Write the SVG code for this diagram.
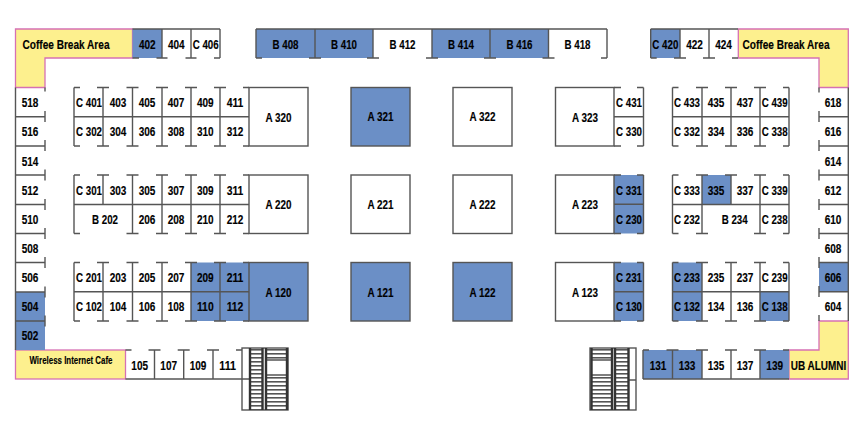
<svg xmlns="http://www.w3.org/2000/svg" width="864" height="432" viewBox="0 0 864 432">
<style>
text{font-family:"Liberation Sans",Arial,sans-serif;font-weight:bold;font-size:12.5px;text-anchor:middle;fill:#000;stroke:#000;stroke-width:.15}
.s{font-size:11px}
.b{fill:#6b8fc6}
.y{fill:#fdf08e;stroke:#d670b4;stroke-width:1.3}
.w{fill:none;stroke:#555;stroke-width:1.4}
.k{fill:none;stroke:#333;stroke-width:2.4}
.tr{fill:url(#treads)}
</style>
<defs>
<pattern id="treads" width="10" height="4" patternUnits="userSpaceOnUse"><rect width="10" height="4" fill="#fff"/><rect y="1" width="10" height="1.600" fill="#555"/></pattern>
<path id="blockL" d="M74 87.5V146M103 87.5V146M132.5 87.5V146M162 87.5V146M191 87.5V146M220 87.5V146M74 116.7H249M74 87.5h6M97 87.5h12M126.500 87.5h12M156 87.5h12M185 87.500h12M214 87.5h12M243 87.5h6M74 146h6M97 146h12M126.500 146h12M156 146h12M185 146h12M214 146h12M243 146h6"/>
<path id="blockC" d="M643.500 87.500V146M614 116.700H643.500M614 87.500h7M637 87.500h6.500M614 146h7M637 146h6.500"/>
<path id="blockR" d="M672.500 87.500V146M702 87.500V146M731 87.500V146M760 87.500V146M789 87.500V146M672.500 116.700H789M672.500 87.500h6M696 87.500h12M725 87.500h12M754 87.500h12M783 87.500h6M672.500 146h6M696 146h12M725 146h12M754 146h12M783 146h6"/>
</defs>

<g id="coffee-left"><polygon class="y" points="15.500,29 132.500,29 132.500,58 45,58 45,87.500 15.500,87.500"/><text x="66" y="48.500" textLength="87" lengthAdjust="spacingAndGlyphs">Coffee Break Area</text></g>
<g id="coffee-right"><polygon class="y" points="738.300,29 848.300,29 848.300,87.500 819,87.500 819,58 738.300,58"/><text x="786" y="48.500" textLength="87" lengthAdjust="spacingAndGlyphs">Coffee Break Area</text></g>
<g id="wireless-cafe"><rect class="y" x="15.500" y="350" width="110" height="29"/><text class="s" transform="translate(71 364) scale(.72 1)">Wireless Internet Cafe</text></g>
<g id="ub-alumni"><polygon class="y" points="819,321 848.300,321 848.300,379 789,379 789,350 819,350"/><text x="818.500" y="369.500" textLength="55.500" lengthAdjust="spacingAndGlyphs">UB ALUMNI</text></g>

<g id="booths-top">
<g id="b402"><rect class="b" x="132.500" y="29" width="29.500" height="29"/><text x="147.300" y="48.500" textLength="16.700" lengthAdjust="spacingAndGlyphs">402</text></g>
<g id="b404"><text x="176.300" y="48.500" textLength="16.700" lengthAdjust="spacingAndGlyphs">404</text></g>
<g id="c406"><text x="205.700" y="48.500" textLength="26" lengthAdjust="spacingAndGlyphs">C 406</text></g>
<g id="b408"><rect class="b" x="256" y="29" width="59" height="29"/><text x="285.500" y="48.500" textLength="26" lengthAdjust="spacingAndGlyphs">B 408</text></g>
<g id="b410"><rect class="b" x="315" y="29" width="58" height="29"/><text x="344" y="48.500" textLength="26" lengthAdjust="spacingAndGlyphs">B 410</text></g>
<g id="b412"><text x="402.500" y="48.500" textLength="26" lengthAdjust="spacingAndGlyphs">B 412</text></g>
<g id="b414"><rect class="b" x="432" y="29" width="58" height="29"/><text x="461" y="48.500" textLength="26" lengthAdjust="spacingAndGlyphs">B 414</text></g>
<g id="b416"><rect class="b" x="490" y="29" width="58.500" height="29"/><text x="519.500" y="48.500" textLength="26" lengthAdjust="spacingAndGlyphs">B 416</text></g>
<g id="b418"><text x="577.500" y="48.500" textLength="26" lengthAdjust="spacingAndGlyphs">B 418</text></g>
<g id="c420"><rect class="b" x="650.700" y="29" width="29.300" height="29"/><text x="665.300" y="48.500" textLength="26" lengthAdjust="spacingAndGlyphs">C 420</text></g>
<g id="b422"><text x="694.500" y="48.500" textLength="16.700" lengthAdjust="spacingAndGlyphs">422</text></g>
<g id="b424"><text x="723.500" y="48.500" textLength="16.700" lengthAdjust="spacingAndGlyphs">424</text></g>
</g>

<g id="booths-left">
<g id="b518"><text x="30" y="107" textLength="16.700" lengthAdjust="spacingAndGlyphs">518</text></g>
<g id="b516"><text x="30" y="136" textLength="16.700" lengthAdjust="spacingAndGlyphs">516</text></g>
<g id="b514"><text x="30" y="165.500" textLength="16.700" lengthAdjust="spacingAndGlyphs">514</text></g>
<g id="b512"><text x="30" y="194.500" textLength="16.700" lengthAdjust="spacingAndGlyphs">512</text></g>
<g id="b510"><text x="30" y="224" textLength="16.700" lengthAdjust="spacingAndGlyphs">510</text></g>
<g id="b508"><text x="30" y="252.500" textLength="16.700" lengthAdjust="spacingAndGlyphs">508</text></g>
<g id="b506"><text x="30" y="282" textLength="16.700" lengthAdjust="spacingAndGlyphs">506</text></g>
<g id="b504"><rect class="b" x="15.500" y="292" width="29.500" height="29"/><text x="30" y="311" textLength="16.700" lengthAdjust="spacingAndGlyphs">504</text></g>
<g id="b502"><rect class="b" x="15.500" y="321" width="29.500" height="29"/><text x="30" y="340" textLength="16.700" lengthAdjust="spacingAndGlyphs">502</text></g>
</g>

<g id="booths-right">
<g id="b618"><text x="833" y="107" textLength="16.700" lengthAdjust="spacingAndGlyphs">618</text></g>
<g id="b616"><text x="833" y="136" textLength="16.700" lengthAdjust="spacingAndGlyphs">616</text></g>
<g id="b614"><text x="833" y="166" textLength="16.700" lengthAdjust="spacingAndGlyphs">614</text></g>
<g id="b612"><text x="833" y="194.500" textLength="16.700" lengthAdjust="spacingAndGlyphs">612</text></g>
<g id="b610"><text x="833" y="224" textLength="16.700" lengthAdjust="spacingAndGlyphs">610</text></g>
<g id="b608"><text x="833" y="252.500" textLength="16.700" lengthAdjust="spacingAndGlyphs">608</text></g>
<g id="b606"><rect class="b" x="819" y="262.500" width="29.300" height="29.200"/><text x="833" y="282" textLength="16.700" lengthAdjust="spacingAndGlyphs">606</text></g>
<g id="b604"><text x="833" y="311" textLength="16.700" lengthAdjust="spacingAndGlyphs">604</text></g>
</g>

<g id="block-left-upper">
<g id="c401"><text x="89" y="107" textLength="26" lengthAdjust="spacingAndGlyphs">C 401</text></g>
<g id="b403"><text x="118" y="107" textLength="16.700" lengthAdjust="spacingAndGlyphs">403</text></g>
<g id="b405"><text x="147" y="107" textLength="16.700" lengthAdjust="spacingAndGlyphs">405</text></g>
<g id="b407"><text x="176" y="107" textLength="16.700" lengthAdjust="spacingAndGlyphs">407</text></g>
<g id="b409"><text x="205.300" y="107" textLength="16.700" lengthAdjust="spacingAndGlyphs">409</text></g>
<g id="b411"><text x="235" y="107" textLength="16.700" lengthAdjust="spacingAndGlyphs">411</text></g>
<g id="c302"><text x="89" y="136" textLength="26" lengthAdjust="spacingAndGlyphs">C 302</text></g>
<g id="b304"><text x="118" y="136" textLength="16.700" lengthAdjust="spacingAndGlyphs">304</text></g>
<g id="b306"><text x="147" y="136" textLength="16.700" lengthAdjust="spacingAndGlyphs">306</text></g>
<g id="b308"><text x="176" y="136" textLength="16.700" lengthAdjust="spacingAndGlyphs">308</text></g>
<g id="b310"><text x="205.300" y="136" textLength="16.700" lengthAdjust="spacingAndGlyphs">310</text></g>
<g id="b312"><text x="235" y="136" textLength="16.700" lengthAdjust="spacingAndGlyphs">312</text></g>
<g id="a320"><text x="278.500" y="121.500" textLength="26" lengthAdjust="spacingAndGlyphs">A 320</text></g>
</g>

<g id="block-left-middle">
<g id="c301"><text x="89" y="194.500" textLength="26" lengthAdjust="spacingAndGlyphs">C 301</text></g>
<g id="b303"><text x="118" y="194.500" textLength="16.700" lengthAdjust="spacingAndGlyphs">303</text></g>
<g id="b305"><text x="147" y="194.500" textLength="16.700" lengthAdjust="spacingAndGlyphs">305</text></g>
<g id="b307"><text x="176" y="194.500" textLength="16.700" lengthAdjust="spacingAndGlyphs">307</text></g>
<g id="b309"><text x="205.300" y="194.500" textLength="16.700" lengthAdjust="spacingAndGlyphs">309</text></g>
<g id="b311"><text x="235" y="194.500" textLength="16.700" lengthAdjust="spacingAndGlyphs">311</text></g>
<g id="b202"><text x="105" y="224" textLength="26" lengthAdjust="spacingAndGlyphs">B 202</text></g>
<g id="b206"><text x="147" y="224" textLength="16.700" lengthAdjust="spacingAndGlyphs">206</text></g>
<g id="b208"><text x="176" y="224" textLength="16.700" lengthAdjust="spacingAndGlyphs">208</text></g>
<g id="b210"><text x="205.300" y="224" textLength="16.700" lengthAdjust="spacingAndGlyphs">210</text></g>
<g id="b212"><text x="235" y="224" textLength="16.700" lengthAdjust="spacingAndGlyphs">212</text></g>
<g id="a220"><text x="278.500" y="209" textLength="26" lengthAdjust="spacingAndGlyphs">A 220</text></g>
</g>

<g id="block-left-lower">
<g id="c201"><text x="89" y="282" textLength="26" lengthAdjust="spacingAndGlyphs">C 201</text></g>
<g id="b203"><text x="118" y="282" textLength="16.700" lengthAdjust="spacingAndGlyphs">203</text></g>
<g id="b205"><text x="147" y="282" textLength="16.700" lengthAdjust="spacingAndGlyphs">205</text></g>
<g id="b207"><text x="176" y="282" textLength="16.700" lengthAdjust="spacingAndGlyphs">207</text></g>
<g id="b209"><rect class="b" x="191" y="262.500" width="29" height="29.200"/><text x="205.300" y="282" textLength="16.700" lengthAdjust="spacingAndGlyphs">209</text></g>
<g id="b211"><rect class="b" x="220" y="262.500" width="29" height="29.200"/><text x="235" y="282" textLength="16.700" lengthAdjust="spacingAndGlyphs">211</text></g>
<g id="c102"><text x="89" y="311" textLength="26" lengthAdjust="spacingAndGlyphs">C 102</text></g>
<g id="b104"><text x="118" y="311" textLength="16.700" lengthAdjust="spacingAndGlyphs">104</text></g>
<g id="b106"><text x="147" y="311" textLength="16.700" lengthAdjust="spacingAndGlyphs">106</text></g>
<g id="b108"><text x="176" y="311" textLength="16.700" lengthAdjust="spacingAndGlyphs">108</text></g>
<g id="b110"><rect class="b" x="191" y="291.700" width="29" height="29.300"/><text x="205.300" y="311" textLength="16.700" lengthAdjust="spacingAndGlyphs">110</text></g>
<g id="b112"><rect class="b" x="220" y="291.700" width="29" height="29.300"/><text x="235" y="311" textLength="16.700" lengthAdjust="spacingAndGlyphs">112</text></g>
<g id="a120"><rect class="b" x="249" y="262.500" width="59" height="58.500"/><text x="278.500" y="296.500" textLength="26" lengthAdjust="spacingAndGlyphs">A 120</text></g>
</g>

<g id="block-a">
<g id="a321"><rect class="b" x="351" y="87.500" width="59" height="58.500"/><text x="380.500" y="121" textLength="26" lengthAdjust="spacingAndGlyphs">A 321</text></g>
<g id="a322"><text x="482.500" y="121" textLength="26" lengthAdjust="spacingAndGlyphs">A 322</text></g>
<g id="a323"><text x="585" y="121.500" textLength="26" lengthAdjust="spacingAndGlyphs">A 323</text></g>
<g id="a221"><text x="380.500" y="209" textLength="26" lengthAdjust="spacingAndGlyphs">A 221</text></g>
<g id="a222"><text x="482.500" y="209" textLength="26" lengthAdjust="spacingAndGlyphs">A 222</text></g>
<g id="a223"><text x="585" y="209" textLength="26" lengthAdjust="spacingAndGlyphs">A 223</text></g>
<g id="a121"><rect class="b" x="351" y="262.500" width="59" height="58.500"/><text x="380.500" y="296.500" textLength="26" lengthAdjust="spacingAndGlyphs">A 121</text></g>
<g id="a122"><rect class="b" x="453" y="262.500" width="59" height="58.500"/><text x="482.500" y="296.500" textLength="26" lengthAdjust="spacingAndGlyphs">A 122</text></g>
<g id="a123"><text x="585" y="296.500" textLength="26" lengthAdjust="spacingAndGlyphs">A 123</text></g>
</g>

<g id="block-c">
<g id="c431"><text x="629" y="107" textLength="26" lengthAdjust="spacingAndGlyphs">C 431</text></g>
<g id="c330"><text x="629" y="136" textLength="26" lengthAdjust="spacingAndGlyphs">C 330</text></g>
<g id="c331"><rect class="b" x="614" y="175" width="29.500" height="29.500"/><text x="629" y="194.500" textLength="26" lengthAdjust="spacingAndGlyphs">C 331</text></g>
<g id="c230"><rect class="b" x="614" y="204.500" width="29.500" height="29"/><text x="629" y="224" textLength="26" lengthAdjust="spacingAndGlyphs">C 230</text></g>
<g id="c231"><rect class="b" x="614" y="262.500" width="29.500" height="29.200"/><text x="629" y="282" textLength="26" lengthAdjust="spacingAndGlyphs">C 231</text></g>
<g id="c130"><rect class="b" x="614" y="291.700" width="29.500" height="29.300"/><text x="629" y="311" textLength="26" lengthAdjust="spacingAndGlyphs">C 130</text></g>
</g>

<g id="block-right">
<g id="c433"><text x="687" y="107" textLength="26" lengthAdjust="spacingAndGlyphs">C 433</text></g>
<g id="b435"><text x="716" y="107" textLength="16.700" lengthAdjust="spacingAndGlyphs">435</text></g>
<g id="b437"><text x="745" y="107" textLength="16.700" lengthAdjust="spacingAndGlyphs">437</text></g>
<g id="c439"><text x="774.700" y="107" textLength="26" lengthAdjust="spacingAndGlyphs">C 439</text></g>
<g id="c332"><text x="687" y="136" textLength="26" lengthAdjust="spacingAndGlyphs">C 332</text></g>
<g id="b334"><text x="716" y="136" textLength="16.700" lengthAdjust="spacingAndGlyphs">334</text></g>
<g id="b336"><text x="745" y="136" textLength="16.700" lengthAdjust="spacingAndGlyphs">336</text></g>
<g id="c338"><text x="774.700" y="136" textLength="26" lengthAdjust="spacingAndGlyphs">C 338</text></g>
<g id="c333"><text x="687" y="194.500" textLength="26" lengthAdjust="spacingAndGlyphs">C 333</text></g>
<g id="b335"><rect class="b" x="702" y="175" width="29" height="29.500"/><text x="716" y="194.500" textLength="16.700" lengthAdjust="spacingAndGlyphs">335</text></g>
<g id="b337"><text x="745" y="194.500" textLength="16.700" lengthAdjust="spacingAndGlyphs">337</text></g>
<g id="c339"><text x="774.700" y="194.500" textLength="26" lengthAdjust="spacingAndGlyphs">C 339</text></g>
<g id="c232"><text x="687" y="224" textLength="26" lengthAdjust="spacingAndGlyphs">C 232</text></g>
<g id="b234"><text x="734.700" y="224" textLength="26" lengthAdjust="spacingAndGlyphs">B 234</text></g>
<g id="c238"><text x="774.700" y="224" textLength="26" lengthAdjust="spacingAndGlyphs">C 238</text></g>
<g id="c233"><rect class="b" x="672.500" y="262.500" width="29.500" height="29.200"/><text x="687" y="282" textLength="26" lengthAdjust="spacingAndGlyphs">C 233</text></g>
<g id="b235"><text x="716" y="282" textLength="16.700" lengthAdjust="spacingAndGlyphs">235</text></g>
<g id="b237"><text x="745" y="282" textLength="16.700" lengthAdjust="spacingAndGlyphs">237</text></g>
<g id="c239"><text x="774.700" y="282" textLength="26" lengthAdjust="spacingAndGlyphs">C 239</text></g>
<g id="c132"><rect class="b" x="672.500" y="291.700" width="29.500" height="29.300"/><text x="687" y="311" textLength="26" lengthAdjust="spacingAndGlyphs">C 132</text></g>
<g id="b134"><text x="716" y="311" textLength="16.700" lengthAdjust="spacingAndGlyphs">134</text></g>
<g id="b136"><text x="745" y="311" textLength="16.700" lengthAdjust="spacingAndGlyphs">136</text></g>
<g id="c138"><rect class="b" x="760" y="291.700" width="29" height="29.300"/><text x="774.700" y="311" textLength="26" lengthAdjust="spacingAndGlyphs">C 138</text></g>
</g>

<g id="booths-bottom">
<g id="b105"><text x="139.700" y="369.500" textLength="16.700" lengthAdjust="spacingAndGlyphs">105</text></g>
<g id="b107"><text x="168.700" y="369.500" textLength="16.700" lengthAdjust="spacingAndGlyphs">107</text></g>
<g id="b109"><text x="198" y="369.500" textLength="16.700" lengthAdjust="spacingAndGlyphs">109</text></g>
<g id="b111"><text x="227.700" y="369.500" textLength="16.700" lengthAdjust="spacingAndGlyphs">111</text></g>
<g id="b131"><rect class="b" x="643" y="350" width="29.500" height="29"/><text x="658" y="369.500" textLength="16.700" lengthAdjust="spacingAndGlyphs">131</text></g>
<g id="b133"><rect class="b" x="672.500" y="350" width="29.500" height="29"/><text x="687" y="369.500" textLength="16.700" lengthAdjust="spacingAndGlyphs">133</text></g>
<g id="b135"><text x="716" y="369.500" textLength="16.700" lengthAdjust="spacingAndGlyphs">135</text></g>
<g id="b137"><text x="745" y="369.500" textLength="16.700" lengthAdjust="spacingAndGlyphs">137</text></g>
<g id="b139"><rect class="b" x="760" y="350" width="29" height="29"/><text x="774.700" y="369.500" textLength="16.700" lengthAdjust="spacingAndGlyphs">139</text></g>
</g>

<g id="stairs">
<rect class="tr" x="250" y="348" width="12.500" height="62"/>
<rect class="tr" x="266" y="348" width="21" height="12"/>
<rect class="tr" x="266" y="375" width="21" height="35"/>
<rect class="w" x="242" y="348" width="46" height="62"/>
<path class="w" d="M242 379H250M266 360H287M266 375H287"/>
<path class="k" d="M250 348V410M262.500 348V410M266 348V410M287 348V410"/>
<rect class="tr" x="592" y="348" width="20" height="12"/>
<rect class="tr" x="592" y="375" width="20" height="35"/>
<rect class="tr" x="615" y="348" width="13" height="62"/>
<rect class="w" x="590" y="348" width="46" height="62"/>
<path class="w" d="M628 380H636M592 360H612M592 375H612"/>
<path class="k" d="M591.500 348V410M612 348V410M615 348V410M628.500 348V410"/>
</g>

<g id="walls" class="w">
<path d="M132.500 29H220M162 29V58M191 29V58M220 29V58M132.500 58h6.500M156.500 58h11M185.500 58h11M214 58h6"/>
<path d="M256 29H607M256 29V58M315 29V58M373 29V58M432 29V58M490 29V58M548.500 29V58M607 29V58M256 58h6M309 58h12M367 58h12M426 58h12M484 58h12M542.500 58h12M601 58h6"/>
<path d="M650.700 29H738M650.700 29V58M680 29V58M709 29V58M650.700 58h6M674 58h12M703 58h12M732 58h6"/>
<path d="M15.500 87.500V350M15.500 116.700H45M15.500 146H45M15.500 175H45M15.500 204.500H45M15.500 233.500H45M15.500 262.500H45M15.500 292H45M15.500 321H45M45 87.500v4M45 111v11M45 140v11M45 169.500v11M45 199v11M45 228v11M45 257v11M45 286.500v11M45 315.500v11"/>
<path d="M848.300 87.500V321M819 116.700H848.300M819 146H848.300M819 175H848.300M819 204.500H848.300M819 233.500H848.300M819 262.500H848.300M819 291.700H848.300M819 87.500v5M819 111v11M819 140v11M819 169.500v11M819 199v11M819 228v11M819 257v11M819 286v11M819 315v6"/>
<use href="#blockL"/>
<use href="#blockL" y="175"/>
<path d="M74 175V233.500M103 175V204.500M132.500 175V233.500M162 175V233.500M191 175V233.500M220 175V233.500M74 204.500H249M74 175h6M97 175h12M126.500 175h12M156 175h12M185 175h12M214 175h12M243 175h6M74 233.500h6M126.500 233.500h12M156 233.500h12M185 233.500h12M214 233.500h12M243 233.500h6"/>
<rect x="249" y="87.500" width="59" height="58.500"/>
<rect x="249" y="175" width="59" height="58.500"/>
<rect x="249" y="262.500" width="59" height="58.500"/>
<rect x="351" y="87.500" width="59" height="58.500"/>
<rect x="351" y="175" width="59" height="58.500"/>
<rect x="351" y="262.500" width="59" height="58.500"/>
<rect x="453" y="87.500" width="59" height="58.500"/>
<rect x="453" y="175" width="59" height="58.500"/>
<rect x="453" y="262.500" width="59" height="58.500"/>
<rect x="555.500" y="87.500" width="58.500" height="58.500"/>
<rect x="555.500" y="175" width="58.500" height="58.500"/>
<rect x="555.500" y="262.500" width="58.500" height="58.500"/>
<use href="#blockC"/>
<use href="#blockC" y="87.500"/>
<use href="#blockC" y="175"/>
<use href="#blockR"/>
<use href="#blockR" y="175"/>
<path d="M672.500 175V233.500M702 175V233.500M731 175V204.500M760 175V233.500M789 175V233.500M672.500 204.500H789M672.500 175h6M696 175h12M725 175h12M754 175h12M783 175h6M672.500 233.500h6M696 233.500h12M754 233.500h12M783 233.500h6"/>
<path d="M125.500 379H242M154.500 350V379M183.700 350V379M213 350V379M125.500 350h6M148.500 350h12M177.700 350h12M207 350h12M236 350h6"/>
<path d="M643 379H789M643 350V379M672.500 350V379M702 350V379M731 350V379M760 350V379M643 350h6M666.500 350h12M696 350h12M725 350h12M754 350h12M783 350h6"/>
</g>
</svg>
